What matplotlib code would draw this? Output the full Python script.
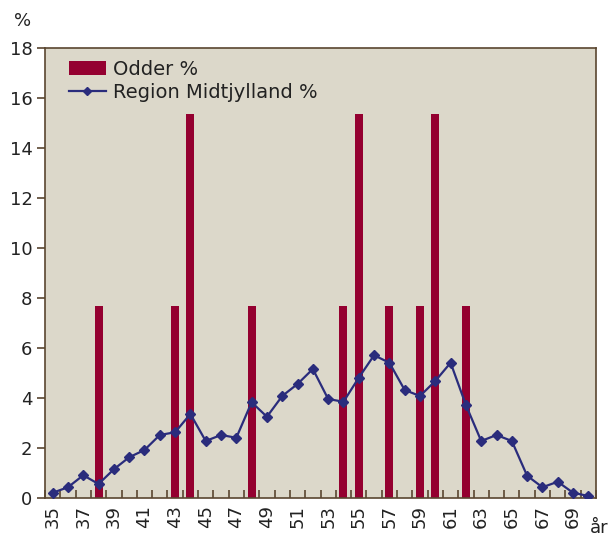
import matplotlib
matplotlib.use("Agg")
import matplotlib.pyplot as plt
import numpy as np

ages = list(range(35, 71))
odder = {38: 7.69, 43: 7.69, 44: 15.38, 48: 7.69, 54: 7.69, 55: 15.38,
         57: 7.69, 59: 7.69, 60: 15.38, 62: 7.69}
odder_vals = [odder.get(a, 0) for a in ages]
region_vals = [0.21, 0.43, 0.91, 0.56, 1.15, 1.63, 1.92, 2.52, 2.63, 3.36,
               2.28, 2.52, 2.41, 3.83, 3.25, 4.08, 4.56, 5.16, 3.96, 3.85,
               4.81, 5.71, 5.41, 4.32, 4.08, 4.68, 5.41, 3.72, 2.28, 2.52,
               2.28, 0.89, 0.43, 0.65, 0.21, 0.08]
tick_labels = [str(a) for a in range(35, 70, 2)]

plt.rcParams['font.family'] = ['DejaVu Sans']
axis_col = '#5a4630'
text_col = '#222222'

fig = plt.figure(figsize=(6.11, 5.39), dpi=100)
ax = fig.add_axes([45/611, 41/539, 551/611, 450/539])
ax.set_facecolor('#dcd8ca')

x = np.arange(len(ages))
bars = ax.bar(x, odder_vals, width=0.52, color='#940030', label='Odder %', zorder=2)
line, = ax.plot(x, region_vals, color='#2a2c7c', lw=1.6, marker='D', ms=5.5,
                label='Region Midtjylland %', zorder=3)

ax.set_xlim(-0.5, len(ages) - 0.5)
ax.set_ylim(0, 18)
ax.set_yticks(range(0, 19, 2))
ax.tick_params(axis='y', direction='out', length=6, width=1.2, color=axis_col,
               labelsize=13, pad=3, labelcolor=text_col)

ax.set_xticks(np.arange(-0.5, len(ages), 1), minor=False)
ax.set_xticklabels([])
ax.tick_params(axis='x', which='major', direction='in', length=6, width=1.2,
               color=axis_col)
ax.set_xticks([ages.index(int(t)) for t in tick_labels], minor=True)
ax.set_xticklabels(tick_labels, minor=True, rotation=90, fontsize=13, color=text_col)
ax.tick_params(axis='x', which='minor', length=0, pad=5)

for s in ax.spines.values():
    s.set_color(axis_col)
    s.set_linewidth(1.2)

fig.text(23/611, 1 - 21/539, '%', fontsize=13, ha='center', va='center', color=text_col)
fig.text(599/611, 1 - 528/539, 'år', fontsize=13, ha='center', va='center', color=text_col)

leg = ax.legend([bars, line], ['Odder %', 'Region Midtjylland %'],
                loc='upper left', bbox_to_anchor=(24/551, 1 - 12/450),
                frameon=False, fontsize=14, handlelength=1.9, handletextpad=0.35,
                labelspacing=0.18, borderaxespad=0, borderpad=0, markerscale=0.8)
for t in leg.get_texts():
    t.set_color(text_col)

fig.savefig('out.png', dpi=100)
